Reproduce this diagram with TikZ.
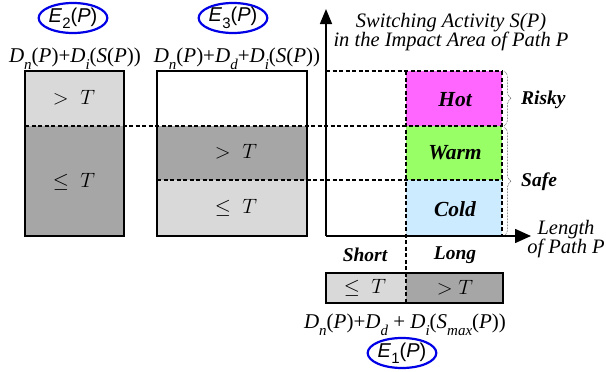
\documentclass[tikz,border=0pt]{standalone}
\usepackage{fontspec}
\setmainfont{Liberation Serif}
\setsansfont{Liberation Sans}
\usetikzlibrary{decorations.pathreplacing,arrows.meta,shapes.geometric}
\definecolor{lg}{HTML}{D9D9D9}
\definecolor{dg}{HTML}{A6A6A6}
\definecolor{hotc}{HTML}{FF66FF}
\definecolor{warmc}{HTML}{99FF66}
\definecolor{coldc}{HTML}{CCEBFF}
\definecolor{eblue}{HTML}{0000E6}
\newcommand\lo[1]{\raisebox{-0.32em}{\fontsize{15}{15}\selectfont #1}}
\begin{document}
\begin{tikzpicture}[x=1pt,y=-1pt,
  lbl/.style={font=\fontsize{21}{17}\selectfont, inner sep=0pt},
  mth/.style={font=\fontsize{20.74}{20}\selectfont, inner sep=0pt},
  lit/.style={font=\fontsize{20.5}{18}\selectfont\itshape, inner sep=0pt, align=center},
  bit/.style={font=\fontsize{19.5}{19}\selectfont\bfseries\itshape, inner sep=0pt},
  zone/.style={font=\fontsize{21.5}{19}\selectfont\bfseries\itshape, inner sep=0pt},
  ell/.style={ellipse, draw=eblue, line width=2.2pt, minimum width=64pt, minimum height=30pt, inner sep=0pt, font=\fontsize{20}{20}\selectfont\sffamily},
  box/.style={line width=1.5pt},
  dsh/.style={line width=1.1pt, dash pattern=on 4pt off 2.5pt},
  brc/.style={decorate, decoration={brace, amplitude=7pt}, densely dotted, line width=0.5pt},
  axis/.style={line width=1.6pt}
]
\useasboundingbox (0,0) rectangle (606,372);
% E2 box
\fill[lg] (25,71) rectangle (124,126);
\fill[dg] (25,126) rectangle (124,236);
% E3 box
\fill[dg] (157,126) rectangle (307,180);
\fill[lg] (157,180) rectangle (307,236);
% coloured zones
\fill[hotc] (406,71) rectangle (502,126);
\fill[warmc] (406,126) rectangle (502,180);
\fill[coldc] (406,180) rectangle (502,236);
% bottom bar
\fill[lg] (326,273) rectangle (406,303);
\fill[dg] (406,273) rectangle (503,303);
% dashed guides
\draw[dsh] (326,71) -- (502,71);
\draw[dsh] (25,126) -- (502,126);
\draw[dsh] (157,180) -- (502,180);
\draw[dsh] (406,71) -- (406,303);
\draw[dsh] (502,71) -- (502,236);
% outlines
\draw[box] (25,71) rectangle (124,236);
\draw[box] (157,71) rectangle (307,236);
\draw[box] (326,273) rectangle (503,303);
% axes
\coordinate (o) at (326,236);
\coordinate (ytop) at (326,9);
\coordinate (xend) at (531,236);
\draw[axis,-{Triangle[length=15pt,width=12pt]}] (o) -- (ytop);
\draw[axis,-{Triangle[length=16pt,width=14pt]}] (o) -- (xend);
% braces
\coordinate (r1) at (504,71);
\coordinate (r2) at (504,126);
\coordinate (s1) at (504,127);
\coordinate (s2) at (504,236);
\draw[brc] (r1) -- (r2);
\draw[brc] (s1) -- (s2);
% texts
\node[mth] (t1) at (74,98) {$>\;T$};
\node[mth] (t2) at (74,182) {$\leq\;T$};
\node[mth] (t3) at (236,152) {$>\;T$};
\node[mth] (t4) at (236,208) {$\leq\;T$};
\node[mth] (t5) at (365,288) {$\leq\;T$};
\node[mth] (t6) at (455,288) {$>T$};
\node[zone] (hot) at (455,100) {Hot};
\node[zone] (warm) at (455,153) {Warm};
\node[zone] (cold) at (455,209) {Cold};
\node[bit,anchor=west] (risky) at (521,100) {Risky};
\node[bit,anchor=west] (safe) at (521,182) {Safe};
\node[bit] (short) at (365,255) {Short};
\node[bit] (long) at (455,255) {Long};
\node[lit] (sw) at (451,32) {Switching Activity S(P)\\in the Impact Area of Path P};
\node[lit] (len) at (566,239) {Length\\of Path P};
\node[lbl] (f2) at (75,59) {\textit{D}\lo{\itshape n}(\textit{P})+\textit{D}\lo{\itshape i}(\textit{S}(\textit{P}))};
\node[lbl] (f3) at (237,59) {\textit{D}\lo{\itshape n}(\textit{P})+\textit{D}\lo{\itshape d}+\textit{D}\lo{\itshape i}(\textit{S}(\textit{P}))};
\node[lbl] (f1) at (405,325) {\textit{D}\lo{\itshape n}(\textit{P})+\textit{D}\lo{\itshape d} + \textit{D}\lo{\itshape i}(\textit{S}\lo{\itshape max}(\textit{P}))};
\node[ell] (e2) at (73,18) {\textit{E}\lo{2}(\textit{P})};
\node[ell] (e3) at (233,18) {\textit{E}\lo{3}(\textit{P})};
\node[ell] (e1) at (402,353) {\textit{E}\lo{1}(\textit{P})};
\end{tikzpicture}
\end{document}
